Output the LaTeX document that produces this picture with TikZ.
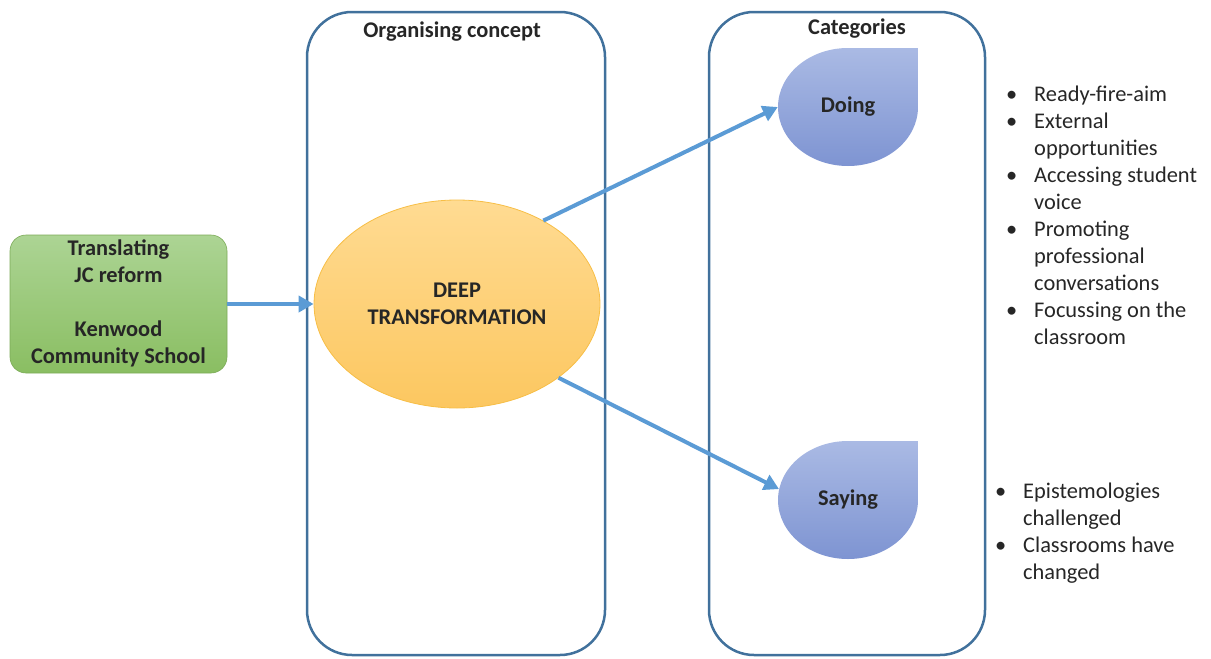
\documentclass[tikz,border=0pt]{standalone}
\usepackage{fontspec}
\setmainfont{Carlito}
\usetikzlibrary{shapes.geometric,arrows.meta}
\definecolor{boxblue}{RGB}{65,113,156}
\definecolor{arrblue}{RGB}{91,155,213}
\definecolor{greentop}{RGB}{172,212,148}
\definecolor{greenbot}{RGB}{138,190,98}
\definecolor{orangetop}{RGB}{255,219,146}
\definecolor{orangebot}{RGB}{252,199,96}
\definecolor{orangeline}{RGB}{247,190,70}
\definecolor{droptop}{RGB}{170,186,228}
\definecolor{dropbot}{RGB}{126,148,210}
\tikzset{
  panel/.style={draw=boxblue, line width=2.5pt, rounded corners=45pt},
  arr/.style={draw=arrblue, line width=4pt, -{Triangle[length=15pt,width=16pt]}},
  lbl/.style={font=\fontsize{22.4}{27}\selectfont\bfseries, text=black!85, align=center, inner sep=0pt},
  drop/.style={top color=droptop, bottom color=dropbot},
  listtxt/.style={font=\fontsize{22.4}{27}\selectfont, text=black!85, anchor=north west, inner sep=0pt, align=left}
}
\begin{document}
\begin{tikzpicture}[x=1pt,y=-1pt]
\useasboundingbox (0,0) rectangle (1211,659);
% panels
\draw[panel] (307,12) rectangle (605,655);
\draw[panel] (709,12) rectangle (985,655);
\node[lbl] (t1) at (452,32) {Organising concept};
\node[lbl] (t2) at (857,29) {Categories};
% green box
\node[draw=greenbot!90!black, line width=0.6pt, rounded corners=16pt, top color=greentop, bottom color=greenbot,
      minimum width=217pt, minimum height=138pt, inner sep=0pt] (green) at (118.5,304) {};
\node[lbl] (greentxt) at (118.5,303) {Translating\\JC reform\\[27pt]Kenwood\\Community School};
% ellipse
\node[ellipse, draw=orangeline, line width=0.8pt, top color=orangetop, bottom color=orangebot,
      minimum width=286pt, minimum height=208pt, inner sep=0pt] (deep) at (457,304) {};
\node[lbl] (deeptxt) at (457,304) {DEEP\\TRANSFORMATION};
% teardrops
\path[drop] (918,48) -- (918,107) .. controls (918,139.6) and (886.7,166) .. (848,166)
  .. controls (809.3,166) and (778,139.6) .. (778,107)
  .. controls (778,74.4) and (809.3,48) .. (848,48) -- cycle;
\path[drop] (918,441) -- (918,500) .. controls (918,532.6) and (886.7,559) .. (848,559)
  .. controls (809.3,559) and (778,532.6) .. (778,500)
  .. controls (778,467.4) and (809.3,441) .. (848,441) -- cycle;
\node[ellipse, minimum width=140pt, minimum height=118pt, inner sep=0pt] (doing) at (848,107) {};
\node[ellipse, minimum width=140pt, minimum height=118pt, inner sep=0pt] (saying) at (848,500) {};
\node[lbl] (doingtxt) at (848,107) {Doing};
\node[lbl] (sayingtxt) at (848,500) {Saying};
% arrows
\draw[arr] (green.east) -- (green.east -| deep.west);
\draw[arr] (deep.44) -- (doing.west);
\draw[arr] (deep.-36) -- (saying.171);
% lists
\node[listtxt] (list1) at (1006,82) {\begin{tabular}{@{}p{28pt}@{}l@{}}
\textbullet & Ready-fire-aim\\
\textbullet & External\\
 & opportunities\\
\textbullet & Accessing student\\
 & voice\\
\textbullet & Promoting\\
 & professional\\
 & conversations\\
\textbullet & Focussing on the\\
 & classroom
\end{tabular}};
\node[listtxt] (list2) at (995,479) {\begin{tabular}{@{}p{28pt}@{}l@{}}
\textbullet & Epistemologies\\
 & challenged\\
\textbullet & Classrooms have\\
 & changed
\end{tabular}};
\end{tikzpicture}
\end{document}
